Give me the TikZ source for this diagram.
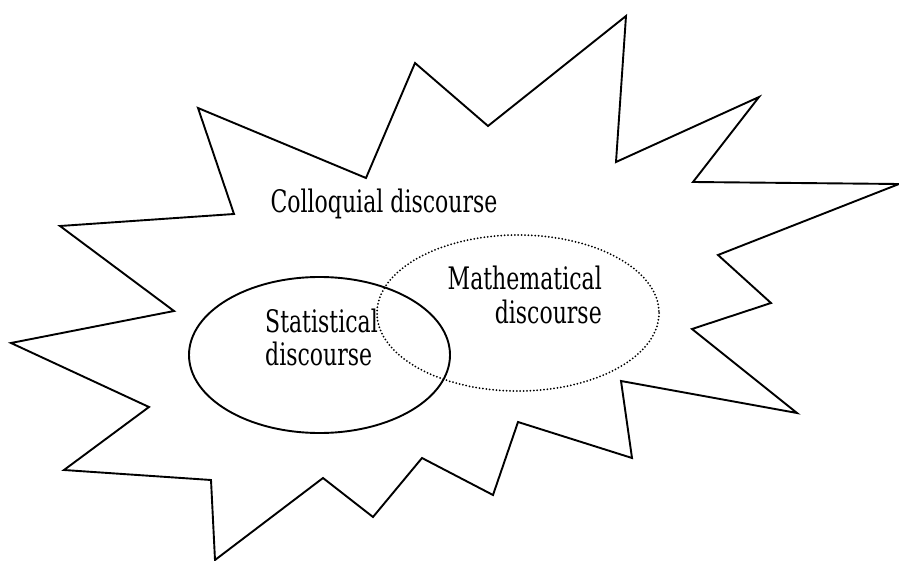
\documentclass[tikz,border=0pt]{standalone}
\usepackage{fontspec}
\newfontfamily\discfont[FakeStretch=0.71]{DejaVu Serif}
\usetikzlibrary{positioning}

\begin{document}
\begin{tikzpicture}[
  x=1pt, y=-1pt,
  outline/.style={draw, line width=1.9pt, line join=miter},
  solidring/.style={draw, line width=1.9pt},
  dotring/.style={draw, line width=2pt, line cap=round, dash pattern=on 0pt off 3.4pt},
  label/.style={font=\discfont\fontsize{31}{33}\selectfont, inner sep=0pt}
]
\useasboundingbox (0,0) rectangle (899,561);

% the colloquial star
\draw[outline] (60,226) -- (234,214) -- (198,108) -- (366,178) -- (415,63)
  -- (488,126) -- (626,16) -- (616,162) -- (759,97) -- (693,182)
  -- (899,184) -- (718,255) -- (771,303) -- (692,329) -- (797,413)
  -- (621,381) -- (632,458) -- (518,422) -- (493,495) -- (422,458)
  -- (373,517) -- (323,478) -- (215,560) -- (211,480) -- (64,470)
  -- (149,407) -- (11,343) -- (174,311) -- cycle;

% the two discourses
\draw[solidring] (319.5,355) ellipse [x radius=130.5, y radius=78];
\draw[dotring] (518,313) ellipse [x radius=141, y radius=78];

\node[label, anchor=base] (colloquial) at (384,213) {Colloquial discourse};
\node[label, anchor=base west, align=left] (statistical) at (265,365) {Statistical\\discourse};
\node[label, anchor=base east, align=right] (mathematical) at (602,323) {Mathematical\\discourse};
\end{tikzpicture}
\end{document}
